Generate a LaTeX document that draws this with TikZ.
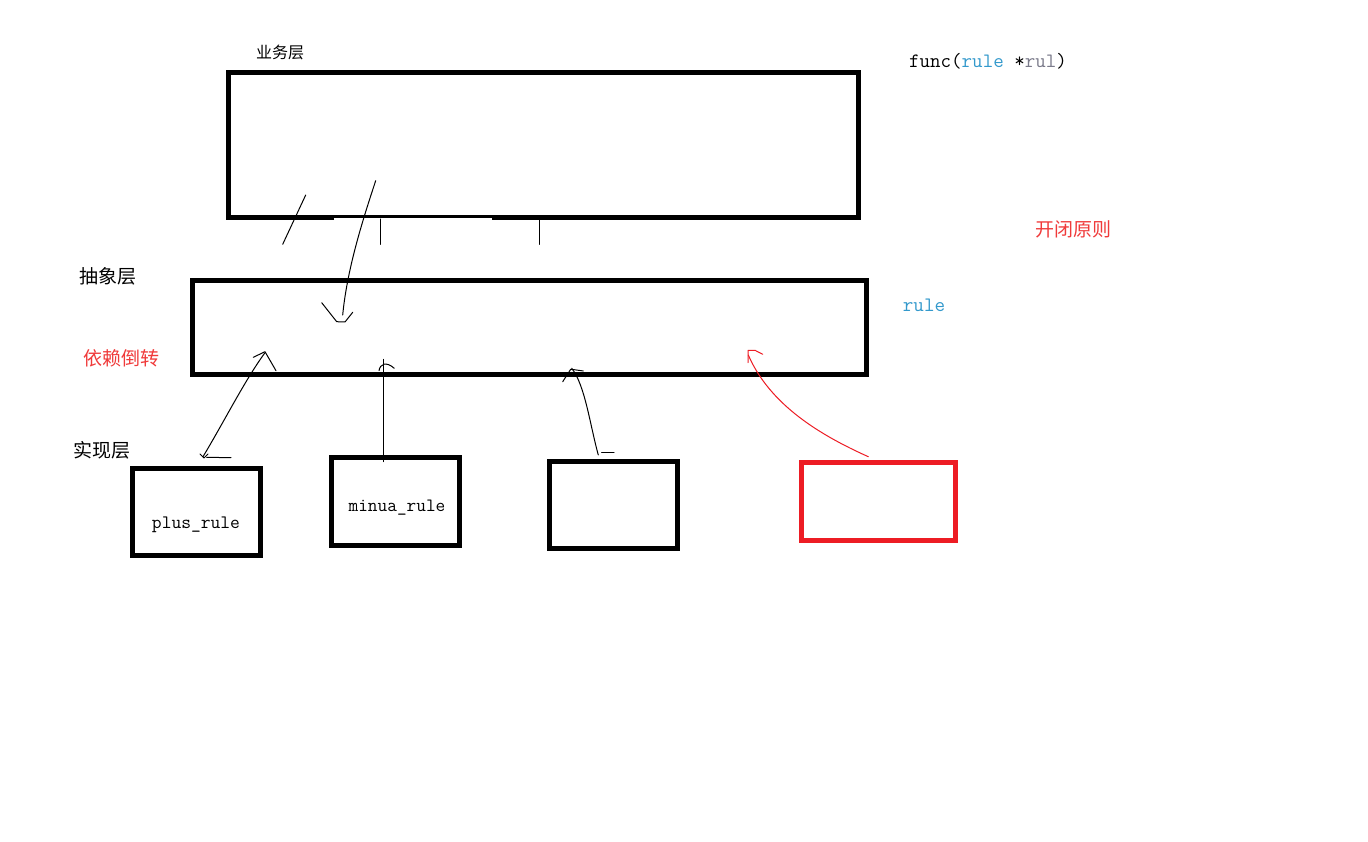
\documentclass[tikz,border=0pt]{standalone}
\usepackage{fontspec}
\newfontfamily\cjk{Noto Sans CJK SC}
\definecolor{paintred}{HTML}{ED1C24}
\definecolor{txtred}{HTML}{F03A3A}
\definecolor{ruleblue}{HTML}{3399CC}
\definecolor{rulgray}{HTML}{7A7A8A}
\begin{document}
\begin{tikzpicture}[x=1pt,y=-1pt,
  thick box/.style={draw, line width=5pt, inner sep=0pt, line join=miter},
  thin/.style={line width=1pt, line cap=round, line join=round},
  cjklabel/.style={font=\cjk\fontsize{19}{21}\selectfont, inner sep=0pt, anchor=center},
  codelabel/.style={font=\ttfamily\fontsize{19}{21}\selectfont, inner sep=0pt, anchor=center}]
\useasboundingbox[fill=white] (0,0) rectangle (1368,842);

% top box (business layer)
\draw[line width=5pt, line join=miter] (334,218) -- (228,218) -- (228,73) -- (858,73) -- (858,218) -- (492,218);
\draw[line width=3pt] (334,217) -- (492,217);

% middle box (abstract layer)
\node[thick box, minimum width=674pt, minimum height=93pt] (mid) at (529,327.5) {};

% bottom boxes
\node[thick box, minimum width=128pt, minimum height=87pt] (plus) at (196,511.5) {};
\node[thick box, minimum width=128pt, minimum height=88pt] (minua) at (395,501) {};
\node[thick box, minimum width=128pt, minimum height=87pt] (empty) at (613,504.5) {};
\node[thick box, draw=paintred, minimum width=154pt, minimum height=78pt] (redbox) at (878,501) {};

\node[codelabel] (plustext) at (196,525) {plus\_rule};
\node[codelabel, font=\ttfamily\fontsize{18.8}{21}\selectfont] (minuatext) at (397,508) {minua\_rule};

% labels
\node[cjklabel, font=\cjk\fontsize{16}{18}\selectfont] (l1) at (280,52) {业务层};
\node[cjklabel] (l2) at (108,276) {抽象层};
\node[cjklabel, text=txtred] (l3) at (121,358) {依赖倒转};
\node[cjklabel] (l4) at (102,450) {实现层};
\node[cjklabel, text=txtred] (l5) at (1073,229) {开闭原则};
\node[codelabel, font=\ttfamily\fontsize{20.5}{22}\selectfont, text=ruleblue] (l6) at (924,305) {rule};
\node[codelabel, font=\ttfamily\fontsize{20.4}{22}\selectfont, anchor=west] (l7) at (909,61)
  {func(\textcolor{ruleblue}{rule} *\textcolor{rulgray}{rul})};

% short marks under top box
\coordinate (m1a) at (305.7,195);
\coordinate (m1b) at (282.7,244.3);
\draw[thin] (m1a) -- (m1b);
\coordinate (v1a) at (380.7,219);
\coordinate (v1b) at (380.7,244.3);
\draw[thin] (v1a) -- (v1b);
\coordinate (v2a) at (539.3,219);
\coordinate (v2b) at (539.3,244.3);
\draw[thin] (v2a) -- (v2b);

% arrow from business layer down into abstract layer
\coordinate (a1s) at (375.7,180.7);
\coordinate (a1e) at (342.7,315);
\draw[thin] (a1s) .. controls (362,222) and (347,270) .. (a1e);
\draw[thin] (321.7,302.7) -- (336.7,321.7) -- (345,322) -- (352.7,312.3);

% arrow plus_rule -> abstract
\coordinate (a2s) at (203,456.7);
\coordinate (a2e) at (265,352.7);
\draw[thin] (a2s) .. controls (225,420) and (245,380) .. (a2e);
\draw[thin] (253.3,357.3) -- (265,351.7) -- (276,370.7);
\draw[thin] (206.7,457.3) -- (231,457.7);
\draw[thin] (200,454) -- (204,458) -- (208,454);

% arrow minua_rule -> abstract
\coordinate (a3s) at (383.3,461.7);
\coordinate (a3e) at (383.3,359.3);
\draw[thin] (a3s) -- (a3e);
\draw[thin] (379,370.7) .. controls (380,364) and (386,361) .. (394.3,368.3);
\draw[thin] (400,455) -- (401.5,455);
\draw[thin] (411.5,455) -- (413,455);

% arrow empty box -> abstract
\coordinate (a4s) at (598.3,455);
\coordinate (a4e) at (571.7,368.3);
\draw[thin] (a4s) .. controls (590,425) and (585,385) .. (a4e);
\draw[thin] (562.7,381.7) -- (570.7,369.3) -- (574.3,369.7) -- (583.3,371);
\draw[thin] (601.7,452.3) -- (614,452.3);

% red arrow: new implementation -> abstract
\coordinate (a5s) at (868.3,456.7);
\coordinate (a5e) at (748.3,355);
\draw[thin, draw=paintred] (a5s) .. controls (820,435) and (770,405) .. (a5e);
\draw[thin, draw=paintred] (748,362.7) -- (748,350.3) -- (755,350.3) -- (762.7,354.3);
\end{tikzpicture}
\end{document}
